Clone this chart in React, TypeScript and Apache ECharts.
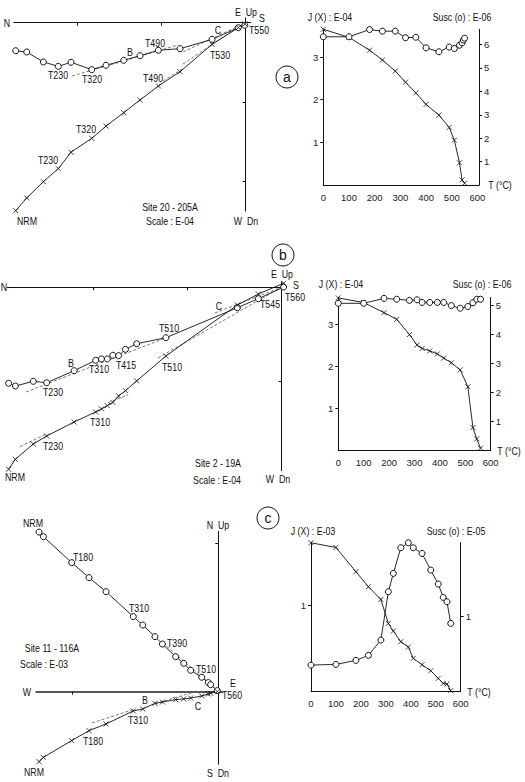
import React, { useEffect, useRef } from 'react';
import * as echarts from 'echarts';

// ---------------- DATA ----------------
// Panel a : Site 20 - 205A  (Zijderveld, units E-04)
const zaNorth = [-2.737, -2.606, -2.408, -2.23, -2.079, -1.832, -1.662, -1.451, -1.257, -1.039, -0.781, -0.4, -0.087, -0.01];
const zaEast = [-0.354, -0.37, -0.496, -0.551, -0.5, -0.593, -0.538, -0.475, -0.417, -0.348, -0.328, -0.21, -0.063, -0.033];
const zaUp = [-2.374, -2.213, -2.008, -1.843, -1.636, -1.46, -1.306, -1.136, -0.976, -0.799, -0.619, -0.273, -0.063, -0.016];
const zaFits = [
  [[-2.067, -0.673], [-0.805, -0.282]],
  [[-0.745, -0.37], [-0.031, -0.016]],
  [[-0.983, -0.736], [-0.757, -0.585]],
  [[-0.745, -0.521], [-0.09, -0.054]],
];
// Panel a : thermal curves
const tempJA = [0, 100, 180, 230, 280, 320, 360, 400, 450, 490, 510, 530, 540, 550];
const jA = [3.65, 3.46, 3.16, 2.93, 2.67, 2.41, 2.16, 1.89, 1.64, 1.35, 1.05, 0.52, 0.12, 0.04];
const tempSA = [0, 100, 180, 230, 280, 320, 360, 400, 450, 490, 510, 530, 540, 545, 550];
const suscA = [6.33, 6.33, 6.64, 6.57, 6.57, 6.29, 6.31, 5.86, 5.69, 5.89, 5.83, 5.97, 6.07, 6.19, 6.27];

// Panel b : Site 2 - 19A (Zijderveld, units E-04)
const zbNorth = [-2.905, -2.833, -2.643, -2.5, -2.208, -1.979, -1.917, -1.855, -1.796, -1.735, -1.662, -1.543, -1.232, -0.472, -0.248, 0.02];
const zbEast = [-1.021, -1.05, -1.0, -1.015, -0.887, -0.776, -0.762, -0.762, -0.723, -0.727, -0.66, -0.6, -0.536, -0.217, -0.121, 0.003];
const zbUp = [-1.936, -1.83, -1.667, -1.582, -1.433, -1.326, -1.294, -1.259, -1.224, -1.156, -1.1, -0.996, -0.731, -0.188, -0.071, 0.043];
const zbFits = [
  [[-2.72, -1.114], [-1.21, -0.529]],
  [[-2.784, -1.695], [-2.518, -1.567]],
  [[-1.848, -1.229], [-1.635, -1.144]],
  [[-1.316, -0.751], [0.003, 0.003]],
  [[-0.71, -0.273], [0.003, 0.003]],
];
// Panel b : thermal curves
const tempB = [0, 100, 180, 230, 280, 310, 330, 360, 390, 415, 445, 480, 510, 530, 545, 560];
const jB = [3.63, 3.52, 3.28, 3.12, 2.76, 2.51, 2.43, 2.37, 2.3, 2.2, 2.09, 1.92, 1.52, 0.55, 0.28, 0.06];
const suscB = [5.08, 5.08, 5.25, 5.22, 5.18, 5.2, 5.11, 5.11, 5.11, 5.11, 5.0, 4.91, 4.97, 5.1, 5.22, 5.22];

// Panel c : Site 11 - 116A (Zijderveld, units E-03)
const zcEast = [-1.231, -1.201, -1.007, -0.888, -0.771, -0.584, -0.519, -0.435, -0.384, -0.293, -0.238, -0.19, -0.114, -0.069, -0.053, -0.007];
const zcNorth = [1.076, 1.045, 0.87, 0.769, 0.674, 0.506, 0.449, 0.371, 0.321, 0.236, 0.191, 0.144, 0.097, 0.061, 0.047, 0.007];
const zcUp = [-0.472, -0.443, -0.33, -0.263, -0.218, -0.13, -0.117, -0.079, -0.07, -0.054, -0.049, -0.043, -0.029, -0.016, -0.011, 0];
const zcFits = [
  [[-0.38, 0.328], [-0.009, 0.011]],
  [[-0.867, -0.211], [-0.572, -0.117]],
  [[-0.435, -0.083], [-0.16, 0.0]],
];
// Panel c : thermal curves
const tempC = [0, 100, 180, 230, 280, 310, 330, 360, 390, 410, 445, 480, 510, 530, 545, 560];
const jC = [1.719, 1.665, 1.385, 1.212, 1.065, 0.788, 0.7, 0.577, 0.515, 0.385, 0.312, 0.242, 0.154, 0.096, 0.088, 0.012];
const suscC = [0.352, 0.361, 0.414, 0.48, 0.683, 1.322, 1.564, 1.903, 1.969, 1.903, 1.828, 1.608, 1.423, 1.247, 1.189, 0.903];

// Tick values
const tempTicks = [0, 100, 200, 300, 400, 500, 600];

// ---------------- LAYOUT / STYLE ----------------
const FONT = 'Liberation Sans, Arial, sans-serif';
const NARROW = 0.8;
const CROSS = 'path://M0,0L10,10M10,0L0,10';
const INK = '#111';

const zip = (xs: number[], ys: number[]) => xs.map((x, i) => [x, ys[i]]);

const grids = [
  { left: 13.8, top: 17.95, width: 236.9, height: 193.2 },
  { left: 323.3, top: 29.3, width: 155.7, height: 155.7 },
  { left: 7.2, top: 281.7, width: 279.2, height: 188.9 },
  { left: 338.3, top: 297.5, width: 152.4, height: 153.2 },
  { left: 36.3, top: 531.5, width: 186.4, height: 232.8 },
  { left: 311, top: 542.7, width: 149.7, height: 149 },
].map((g) => ({ ...g, containLabel: false, outerBoundsMode: 'none' }));

const zAxis = (gridIndex: number, min: number, max: number, ticks: number[], color = INK, width = 1) => ({
  type: 'value',
  gridIndex,
  min,
  max,
  axisLine: { show: true, onZero: true, lineStyle: { color, width } },
  axisTick: { show: true, customValues: ticks, length: 3, lineStyle: { color: INK, width: 1 } },
  axisLabel: { show: false },
  splitLine: { show: false },
});

const tAxisX = (gridIndex: number, max: number) => ({
  type: 'value',
  gridIndex,
  min: 0,
  max,
  axisLine: { show: true, onZero: false, lineStyle: { color: INK, width: 1 } },
  axisTick: { show: false },
  axisLabel: { customValues: tempTicks, fontFamily: FONT, fontSize: 9.5, color: '#222', margin: 7 },
  splitLine: { show: false },
});

const tAxisY = (gridIndex: number, max: number, ticks: number[], position: 'left' | 'right') => ({
  type: 'value',
  gridIndex,
  position,
  min: 0,
  max,
  axisLine: { show: true, onZero: false, lineStyle: { color: INK, width: 1 } },
  axisTick: { show: true, customValues: ticks, length: 3, lineStyle: { color: INK } },
  axisLabel: { customValues: ticks, fontFamily: FONT, fontSize: 9.5, color: '#222', margin: 5 },
  splitLine: { show: false },
});

const markSeries = (xi: number, yi: number, data: number[][], kind: 'o' | 'x') => ({
  type: 'line',
  xAxisIndex: xi,
  yAxisIndex: yi,
  data,
  symbol: kind === 'x' ? CROSS : 'circle',
  symbolSize: kind === 'x' ? 5 : 6,
  showAllSymbol: true,
  clip: false,
  silent: true,
  z: 3,
  lineStyle: { color: INK, width: 0.9 },
  itemStyle:
    kind === 'x'
      ? { color: INK, borderColor: INK, borderWidth: 0.8 }
      : { color: '#fff', borderColor: INK, borderWidth: 1 },
});

const fitSeries = (xi: number, yi: number, seg: number[][]) => ({
  type: 'line',
  xAxisIndex: xi,
  yAxisIndex: yi,
  data: seg,
  symbol: 'none',
  silent: true,
  clip: false,
  z: 2,
  lineStyle: { color: '#555', width: 0.8, type: [3, 2] },
});

const NB = '\u00a0';
const labels: [string, number, number, number?][] = [
  // panel a
  ['N', 7, 22.7], [`E${NB}${NB}Up`, 246, 12], ['S', 262, 18], ['T550', 259, 30], ['C', 218, 30],
  ['T490', 155, 43], ['B', 130, 52], ['T530', 220, 55], ['T230', 58, 75], ['T320', 92, 79],
  ['T490', 153, 78], ['T320', 86, 129], ['T230', 48, 160], ['NRM', 27, 221],
  ['Site 20 - 205A', 170, 207], ['Scale : E-04', 170, 221], [`W${NB}${NB}Dn`, 246, 221],
  ['J (X) : E-04', 330, 17], ['Susc (o) : E-06', 462, 17], ['T (°C)', 500, 185],
  // panel b
  ['N', 4, 287], [`E${NB}${NB}Up`, 282, 274], ['S', 296, 285], ['T560', 295, 297], ['T545', 270, 304],
  ['C', 219, 306], ['T510', 169, 328], ['B', 71, 363], ['T310', 99, 369], ['T415', 126, 365],
  ['T510', 172, 367], ['T230', 53, 392], ['T310', 100, 422], ['T230', 53, 446], ['NRM', 15, 477],
  ['Site 2 - 19A', 218, 463], ['Scale : E-04', 217, 480], [`W${NB}${NB}Dn`, 278, 479],
  ['J (X) : E-04', 341, 284], ['Susc (o) : E-06', 482, 284], ['T (°C)', 509, 451],
  // panel c
  ['NRM', 33, 523], ['T180', 83, 557], ['T310', 139, 608], ['T390', 177, 643], ['T510', 206, 669],
  ['Site 11 - 116A', 52, 648], ['Scale : E-03', 44, 664], ['W', 27, 692], ['E', 233, 683],
  ['T560', 232, 695], [`N${NB}${NB}Up`, 218, 525], [`S${NB}${NB}Dn`, 218, 773], ['B', 145, 700],
  ['C', 198, 706], ['T310', 138, 720], ['T180', 93, 741], ['NRM', 34, 772],
  ['J (X) : E-03', 313, 531], ['Susc (o) : E-05', 456, 531], ['T (°C)', 479, 692],
];
const panelTags: [string, number, number][] = [['a', 287, 77], ['b', 283, 255], ['c', 268, 518]];

const graphic: any[] = [
  ...labels.map(([text, x, y, fs]) => ({
    type: 'text',
    x,
    y,
    scaleX: NARROW,
    silent: true,
    style: {
      text,
      fontFamily: FONT,
      fontSize: fs ?? 11,
      fill: INK,
      align: 'center',
      verticalAlign: 'middle',
      textAlign: 'center',
      textVerticalAlign: 'middle',
    },
  })),
  ...panelTags.flatMap(([t, cx, cy]) => [
    { type: 'circle', silent: true, shape: { cx, cy, r: 11 }, style: { fill: 'none', stroke: INK, lineWidth: 1 } },
    {
      type: 'text',
      x: cx,
      y: cy,
      silent: true,
      style: {
        text: t,
        fontFamily: FONT,
        fontSize: 14,
        fill: INK,
        align: 'center',
        verticalAlign: 'middle',
        textAlign: 'center',
        textVerticalAlign: 'middle',
      },
    },
  ]),
];

const option: any = {
  animation: false,
  backgroundColor: '#fff',
  grid: grids,
  xAxis: [
    zAxis(0, -2.76, 0.06, [-2, -1]),
    tAxisX(1, 606),
    zAxis(2, -2.92, 0.05, [-2, -1]),
    tAxisX(3, 600),
    zAxis(4, -1.25, 0.03, [-1], '#555', 2),
    tAxisX(5, 600),
  ],
  yAxis: [
    zAxis(0, -2.38, 0.06, [-2, -1]),
    tAxisY(1, 3.65, [1, 2, 3], 'left'),
    tAxisY(1, 6.65, [1, 2, 3, 4, 5, 6], 'right'),
    zAxis(2, -1.95, 0.06, [-1]),
    tAxisY(3, 3.64, [1, 2, 3], 'left'),
    tAxisY(3, 5.28, [1, 2, 3, 4, 5], 'right'),
    zAxis(4, -0.49, 1.08, [1]),
    tAxisY(5, 1.72, [1], 'left'),
    tAxisY(5, 1.97, [1], 'right'),
  ],
  series: [
    // panel a
    markSeries(0, 0, zip(zaNorth, zaEast), 'o'),
    markSeries(0, 0, zip(zaNorth, zaUp), 'x'),
    ...zaFits.map((s) => fitSeries(0, 0, s)),
    markSeries(1, 1, zip(tempJA, jA), 'x'),
    markSeries(1, 2, zip(tempSA, suscA), 'o'),
    // panel b
    markSeries(2, 3, zip(zbNorth, zbEast), 'o'),
    markSeries(2, 3, zip(zbNorth, zbUp), 'x'),
    ...zbFits.map((s) => fitSeries(2, 3, s)),
    markSeries(3, 4, zip(tempB, jB), 'x'),
    markSeries(3, 5, zip(tempB, suscB), 'o'),
    // panel c
    markSeries(4, 6, zip(zcEast, zcNorth), 'o'),
    markSeries(4, 6, zip(zcEast, zcUp), 'x'),
    ...zcFits.map((s) => fitSeries(4, 6, s)),
    markSeries(5, 7, zip(tempC, jC), 'x'),
    markSeries(5, 8, zip(tempC, suscC), 'o'),
  ],
  graphic,
};

export default function App() {
  const ref = useRef<HTMLDivElement>(null);
  useEffect(() => {
    if (!ref.current) return;
    const chart = echarts.init(ref.current, null, { renderer: 'svg' });
    chart.setOption(option);
    return () => chart.dispose();
  }, []);
  return (
    <div
      ref={ref}
      style={{ position: 'fixed', left: 0, top: 0, width: 525, height: 782, background: '#fff' }}
    />
  );
}
